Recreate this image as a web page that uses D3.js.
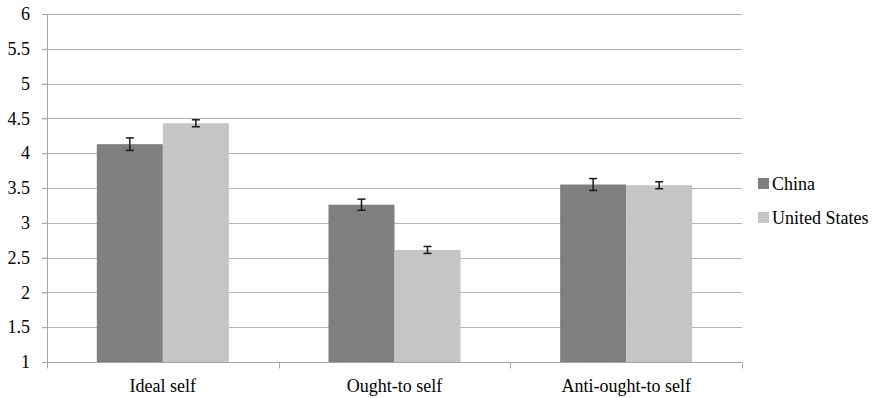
<!DOCTYPE html>
<html>
<head>
<meta charset="utf-8">
<script src="https://cdn.jsdelivr.net/npm/d3@7"></script>
<style>
  body { margin: 0; background: #fff; }
</style>
</head>
<body>
<div id="chart"></div>
<script>
// Data
var categories = ["Ideal self", "Ought-to self", "Anti-ought-to self"];
var seriesNames = ["China", "United States"];
var chinaValues = [4.13, 3.26, 3.55];
var usValues = [4.43, 2.61, 3.54];
var chinaErrors = [0.09, 0.08, 0.085];
var usErrors = [0.05, 0.05, 0.05];
var yTicks = [1, 1.5, 2, 2.5, 3, 3.5, 4, 4.5, 5, 5.5, 6];
var colors = ["#7f7f7f", "#c4c5c4"];

var serif = "Liberation Serif";
var fontSize = 18;

var svgWidth = 882, svgHeight = 398;
var margin = { top: 14, right: 140, bottom: 36, left: 47 };
var width = svgWidth - margin.left - margin.right;
var height = svgHeight - margin.top - margin.bottom;

var svg = d3.select("#chart").append("svg")
  .attr("width", svgWidth)
  .attr("height", svgHeight)
  .attr("font-family", serif);

var chart = svg.append("g")
  .attr("transform", "translate(" + margin.left + "," + margin.top + ")");

var x0 = d3.scaleBand().domain(categories).range([0, width]).paddingInner(0).paddingOuter(0);
var bandPad = 0.215;
var x1 = d3.scaleBand().domain(seriesNames)
  .range([x0.bandwidth() * bandPad, x0.bandwidth() * (1 - bandPad)]);
var y = d3.scaleLinear().domain([1, 6]).range([height, 0]);

// gridlines
chart.append("g").selectAll("line")
  .data(yTicks.slice(1))
  .enter().append("line")
  .attr("x1", -5).attr("x2", width)
  .attr("y1", function(d) { return Math.round(y(d)) + 0.5; })
  .attr("y2", function(d) { return Math.round(y(d)) + 0.5; })
  .attr("stroke", "#b3b3b3").attr("stroke-width", 1.2);

// y axis
var leftAxis = d3.axisLeft(y).tickValues(yTicks).tickSize(5).tickPadding(12)
  .tickFormat(function(d) { return d; });
var yAxisG = chart.append("g").call(leftAxis)
  .attr("font-family", serif)
  .attr("font-size", fontSize);
yAxisG.select(".domain").attr("stroke", "#a6a6a6").attr("d", "M0.5," + (height + 6) + "V0");
yAxisG.selectAll(".tick line").attr("stroke", "#a6a6a6");
yAxisG.selectAll("text").attr("fill", "#000");

// bars
var rows = categories.map(function(c, i) {
  return [
    { cat: c, s: seriesNames[0], v: chinaValues[i], e: chinaErrors[i], c: colors[0] },
    { cat: c, s: seriesNames[1], v: usValues[i], e: usErrors[i], c: colors[1] }
  ];
});
var flat = [].concat.apply([], rows);

chart.append("g").selectAll("rect")
  .data(flat)
  .enter().append("rect")
  .attr("x", function(d) { return x0(d.cat) + x1(d.s); })
  .attr("width", x1.bandwidth())
  .attr("y", function(d) { return y(d.v); })
  .attr("height", function(d) { return y(1) - y(d.v); })
  .attr("fill", function(d) { return d.c; });

// error bars
function cx(d) { return x0(d.cat) + x1(d.s) + x1.bandwidth() / 2; }
var eb = chart.append("g").selectAll("g")
  .data(flat)
  .enter().append("g")
  .attr("stroke", "#1a1a1a").attr("stroke-width", 1.5);
eb.append("line")
  .attr("x1", cx).attr("x2", cx)
  .attr("y1", function(d) { return y(d.v + d.e); })
  .attr("y2", function(d) { return y(d.v - d.e); });
eb.append("line")
  .attr("x1", function(d) { return cx(d) - 4; })
  .attr("x2", function(d) { return cx(d) + 4; })
  .attr("y1", function(d) { return y(d.v + d.e); })
  .attr("y2", function(d) { return y(d.v + d.e); });
eb.append("line")
  .attr("x1", function(d) { return cx(d) - 4; })
  .attr("x2", function(d) { return cx(d) + 4; })
  .attr("y1", function(d) { return y(d.v - d.e); })
  .attr("y2", function(d) { return y(d.v - d.e); });

// x axis
var xAxisG = chart.append("g").attr("transform", "translate(0," + (Math.round(height) + 0.5) + ")");
xAxisG.append("line").attr("x1", 0).attr("x2", width).attr("stroke", "#a6a6a6").attr("stroke-width", 1.2);
xAxisG.selectAll(".xt")
  .data(d3.range(categories.length + 1))
  .enter().append("line")
  .attr("x1", function(i) { return Math.round(i * x0.bandwidth()) + 0.5; })
  .attr("x2", function(i) { return Math.round(i * x0.bandwidth()) + 0.5; })
  .attr("y1", 0).attr("y2", 6)
  .attr("stroke", "#a6a6a6");
xAxisG.selectAll("text")
  .data(categories)
  .enter().append("text")
  .attr("x", function(d) { return x0(d) + x0.bandwidth() / 2; })
  .attr("y", 29)
  .attr("text-anchor", "middle")
  .attr("font-family", serif)
  .attr("font-size", fontSize)
  .text(function(d) { return d; });

// legend
var legend = svg.append("g").attr("transform", "translate(758,178)");
var items = legend.selectAll("g")
  .data(seriesNames)
  .enter().append("g")
  .attr("transform", function(d, i) { return "translate(0," + (i * 34) + ")"; });
items.append("rect").attr("width", 11).attr("height", 11)
  .attr("fill", function(d, i) { return colors[i]; });
items.append("text").attr("x", 14).attr("y", 12)
  .attr("font-family", serif)
  .attr("font-size", fontSize)
  .text(function(d) { return d; });
</script>
</body>
</html>
